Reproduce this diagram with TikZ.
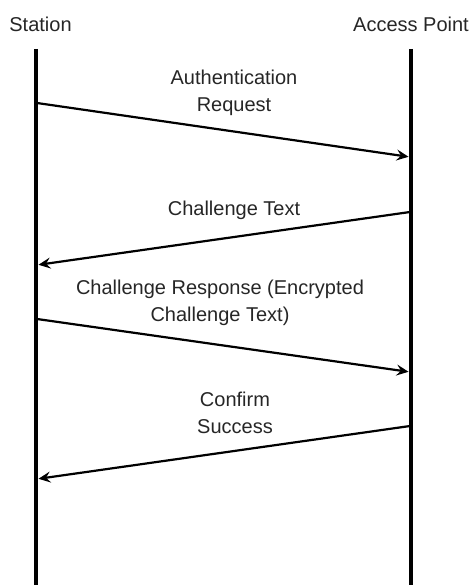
\documentclass[tikz,border=0pt]{standalone}
\usepackage{fontspec}
\setmainfont{Liberation Sans}
\usetikzlibrary{arrows.meta}
\begin{document}
\begin{tikzpicture}[x=1pt, y=-1pt, >={Stealth[length=12pt, width=11pt, inset=4.5pt]},
  lifeline/.style={line width=3.8pt},
  msg/.style={->, line width=2.2pt, shorten >=1.5pt},
  lbl/.style={font=\fontsize{20}{27}\selectfont, align=center, inner sep=0pt, text=black!85}]
  \useasboundingbox (0,0) rectangle (472,585);
  % parties
  \node[lbl] (sta) at (40.5,24) {Station};
  \node[lbl] (ap) at (411,24) {Access Point};
  \coordinate (sta top) at (36,49);
  \coordinate (sta bot) at (36,585);
  \coordinate (ap top) at (411,49);
  \coordinate (ap bot) at (411,585);
  \draw[lifeline] (sta top) -- (sta bot);
  \draw[lifeline, line width=3.4pt] (ap top) -- (ap bot);
  % message end points
  \coordinate (m1s) at (37,103);
  \coordinate (m1e) at (410,157);
  \coordinate (m2s) at (410,212);
  \coordinate (m2e) at (37,265);
  \coordinate (m3s) at (37,319);
  \coordinate (m3e) at (410,372);
  \coordinate (m4s) at (410,426);
  \coordinate (m4e) at (37,479);
  \draw[msg] (m1s) -- (m1e);
  \draw[msg] (m2s) -- (m2e);
  \draw[msg] (m3s) -- (m3e);
  \draw[msg] (m4s) -- (m4e);
  % labels
  \node[lbl] (l1) at (234,93) {Authentication\\Request};
  \node[lbl] (l2) at (234,210) {Challenge Text};
  \node[lbl] (l3) at (220,303) {Challenge Response (Encrypted\\Challenge Text)};
  \node[lbl] (l4) at (235,413) {Confirm\\Success};
\end{tikzpicture}
\end{document}
